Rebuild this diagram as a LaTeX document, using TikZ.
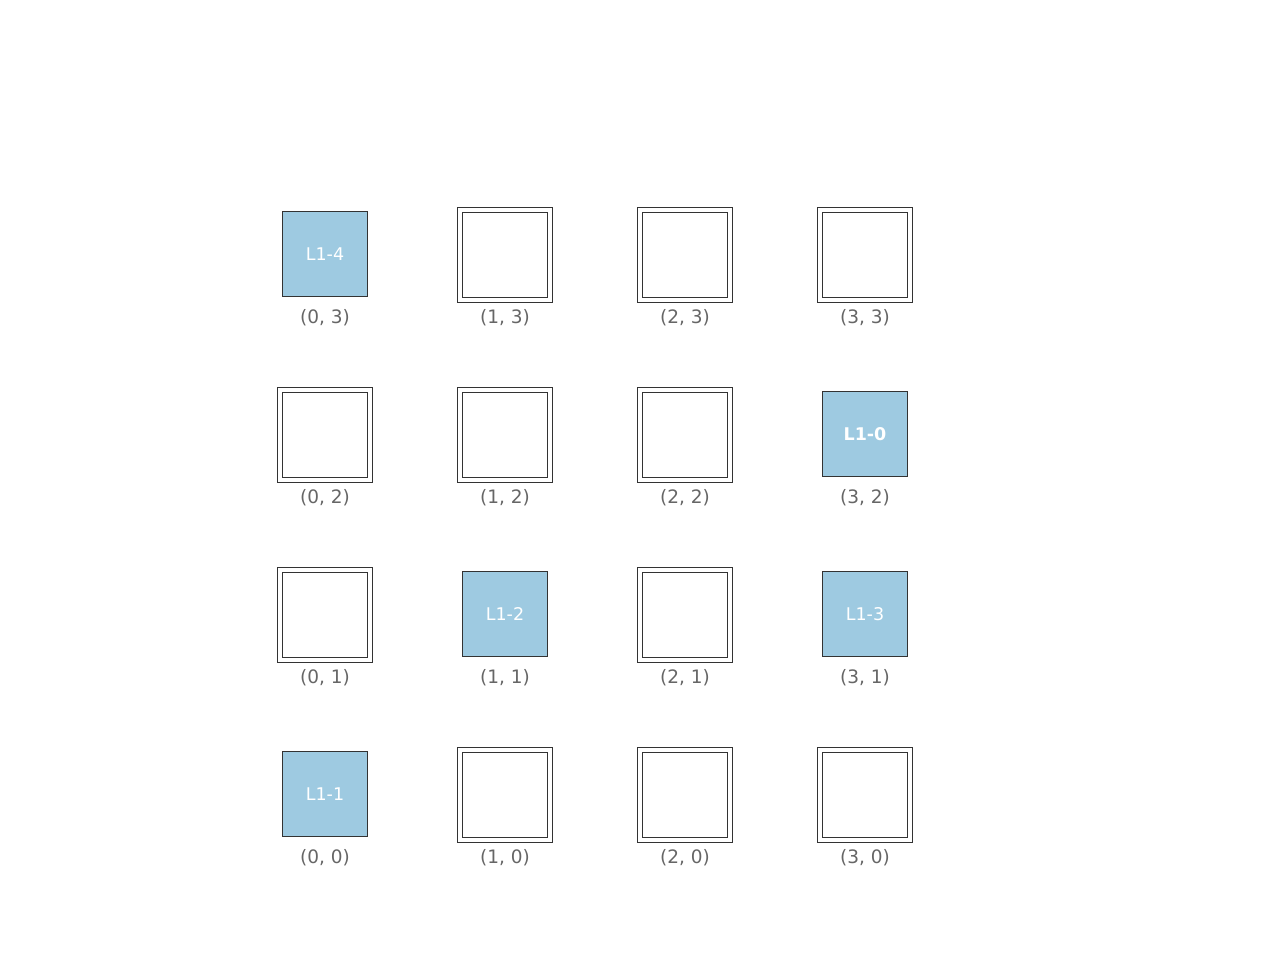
\documentclass[tikz,border=0pt]{standalone}
\usepackage{fontspec}
\setmainfont{DejaVu Sans}
\definecolor{cellblue}{HTML}{9ECAE1}
\definecolor{edge}{HTML}{333333}
\definecolor{lab}{HTML}{666666}
\begin{document}
\begin{tikzpicture}[x=1pt,y=-1pt,
  outerbox/.style={draw=edge,line width=1.1pt,minimum size=95pt,inner sep=0pt},
  innerbox/.style={draw=edge,line width=1.1pt,minimum size=85pt,inner sep=0pt},
  usedbox/.style={draw=edge,line width=1.1pt,fill=cellblue,minimum size=85pt,inner sep=0pt,text=white,font=\fontsize{17.5}{17.5}\selectfont},
  coordlab/.style={text=lab,font=\fontsize{18.5}{18.5}\selectfont,inner sep=0pt}]
\useasboundingbox (0,0) rectangle (1280,960);
\fill[white] (0,0) rectangle (1280,960);
% empty cells
\foreach \i/\j in {1/3,2/3,3/3,0/2,1/2,2/2,0/1,2/1,1/0,2/0,3/0}{
  \node[outerbox] (o\i\j) at ({325+180*\i},{795-180*\j}) {};
  \node[innerbox] (c\i\j) at ({325+180*\i},{795-180*\j}) {};
}
% used cells
\node[usedbox] (c03) at (325,254) {L1-4};
\node[usedbox,font=\fontsize{17.5}{17.5}\selectfont\bfseries] (c32) at (865,434) {L1-0};
\node[usedbox] (c11) at (505,614) {L1-2};
\node[usedbox] (c31) at (865,614) {L1-3};
\node[usedbox] (c00) at (325,794) {L1-1};
% coordinate labels
\foreach \i in {0,1,2,3}{
  \foreach \j in {0,1,2,3}{
    \node[coordlab] (l\i\j) at ({325+180*\i},{858-180*\j}) {(\i, \j)};
  }
}
\end{tikzpicture}
\end{document}
